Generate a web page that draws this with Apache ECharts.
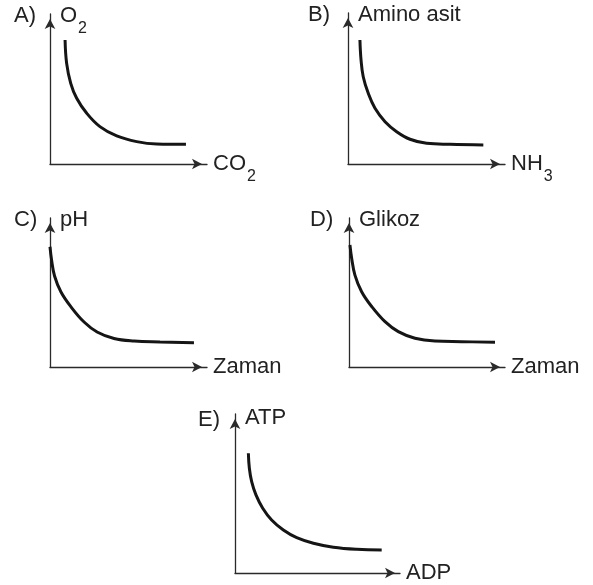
<!DOCTYPE html>
<html>
<head>
<meta charset="utf-8">
<style>html,body{margin:0;padding:0;background:#fff}#c{width:593px;height:585px}</style>
<script src="https://cdn.jsdelivr.net/npm/echarts@6/dist/echarts.min.js"></script>
</head>
<body>
<div id="c"></div>
<script>
// ---- data ----
const panelLetters = ['A)', 'B)', 'C)', 'D)', 'E)'];
const yAxisNames = ['{n|O}{s|2}', '{n|Amino asit}', '{n|pH}', '{n|Glikoz}', '{n|ATP}'];
const xAxisNames = ['{n|CO}{s|2}', '{n|NH}{s|3}', '{n|Zaman}', '{n|Zaman}', '{n|ADP}'];

const curveA = [[0.96, 8.27], [1.06, 6.71], [1.32, 5.38], [1.70, 4.38], [2.34, 3.38], [3.18, 2.49], [4.25, 1.87], [5.52, 1.49], [6.80, 1.33], [8.66, 1.31]];
const curveB = [[0.76, 8.21], [0.83, 6.89], [0.97, 5.78], [1.29, 4.68], [1.72, 3.69], [2.36, 2.80], [3.10, 2.14], [3.95, 1.64], [5.01, 1.37], [6.50, 1.30], [8.62, 1.26]];
const curveC = [[0.00, 8.07], [0.10, 7.18], [0.29, 6.11], [0.70, 5.03], [1.34, 4.03], [2.17, 3.02], [3.00, 2.35], [4.08, 1.91], [5.35, 1.74], [7.01, 1.68], [9.17, 1.63]];
const curveD = [[0.06, 8.19], [0.17, 7.30], [0.38, 6.17], [0.81, 5.05], [1.46, 4.05], [2.31, 3.04], [3.16, 2.37], [4.23, 1.93], [5.51, 1.74], [7.22, 1.70], [9.36, 1.66]];
const curveE = [[0.81, 7.53], [0.87, 6.59], [1.01, 5.74], [1.27, 4.91], [1.68, 4.07], [2.22, 3.33], [2.93, 2.70], [3.74, 2.22], [4.75, 1.87], [5.96, 1.62], [7.38, 1.49], [8.89, 1.45]];
const curves = [curveA, curveB, curveC, curveD, curveE];

// ---- layout ----
const grids = [
  {left: 50, top: 14, width: 157, height: 150},
  {left: 348, top: 13, width: 157, height: 151},
  {left: 50, top: 218, width: 157, height: 149},
  {left: 349, top: 218, width: 156, height: 149},
  {left: 235, top: 414, width: 165, height: 159}
];
const letterPos = [[14, 16], [308, 15], [14, 220], [310, 220], [198, 420]];
const yNameGaps = [-2, -2, -2, -2, -4];

const FONT = '"Liberation Sans", Arial, Helvetica, sans-serif';
const AXIS_COLOR = '#2a2a2a';
const rich = {
  n: {fontSize: 22, fontFamily: FONT, color: '#222'},
  s: {fontSize: 16, fontFamily: FONT, color: '#222', padding: [26, 0, 0, 1]}
};
const axisLine = {
  show: true,
  symbol: ['none', 'arrow'],
  symbolSize: [8, 10],
  symbolOffset: [0, -5],
  lineStyle: {color: AXIS_COLOR, width: 1.3}
};

const option = {
  backgroundColor: '#fff',
  animation: false,
  grid: grids.map(g => Object.assign({containLabel: false}, g)),
  xAxis: grids.map((g, i) => ({
    type: 'value', gridIndex: i, min: 0, max: 10,
    axisLine: axisLine, axisTick: {show: false}, axisLabel: {show: false}, splitLine: {show: false},
    name: xAxisNames[i], nameLocation: 'end', nameGap: 6,
    nameTextStyle: {align: 'left', verticalAlign: 'middle', rich: rich}
  })),
  yAxis: grids.map((g, i) => ({
    type: 'value', gridIndex: i, min: 0, max: 10,
    axisLine: axisLine, axisTick: {show: false}, axisLabel: {show: false}, splitLine: {show: false},
    name: yAxisNames[i], nameLocation: 'end', nameGap: yNameGaps[i],
    nameTextStyle: {align: 'left', verticalAlign: 'middle', padding: [0, 0, 0, 10], rich: rich}
  })),
  series: curves.map((c, i) => ({
    type: 'line', xAxisIndex: i, yAxisIndex: i, data: c,
    smooth: 0.4, smoothMonotone: 'none', showSymbol: false, silent: true,
    lineStyle: {color: '#151515', width: 3, cap: 'butt'}
  })),
  graphic: panelLetters.map((t, i) => ({
    type: 'text', x: letterPos[i][0], y: letterPos[i][1],
    style: {text: t, font: '22px ' + FONT, fill: '#222', textAlign: 'left', textVerticalAlign: 'middle', verticalAlign: 'middle'}
  }))
};

const chart = echarts.init(document.getElementById('c'), null, {renderer: 'canvas'});
chart.setOption(option);
</script>
</body>
</html>
